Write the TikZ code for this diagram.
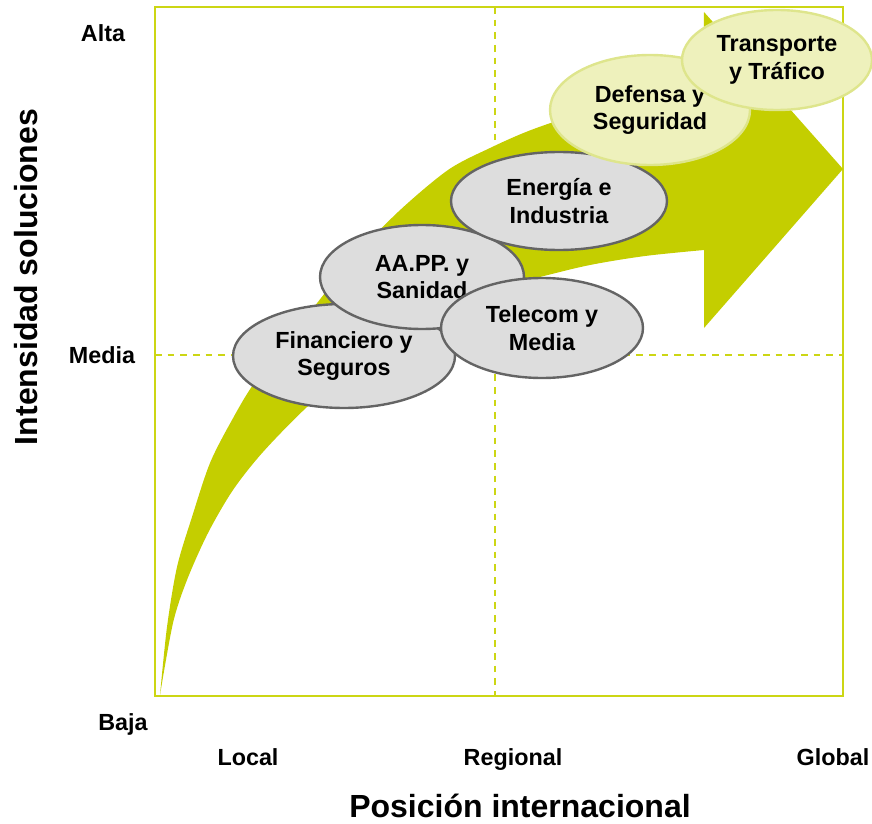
\documentclass[tikz,border=0pt]{standalone}
\usepackage{fontspec}
\setmainfont{Liberation Sans}
\usepackage{xcolor}
\usepackage{tikz}
\usetikzlibrary{shapes.geometric, positioning}
\definecolor{lime}{RGB}{196,206,0}
\definecolor{limeframe}{RGB}{204,214,20}
\definecolor{palefill}{RGB}{238,241,188}
\definecolor{paleedge}{RGB}{222,229,140}
\definecolor{greyfill}{RGB}{221,221,221}
\definecolor{greyedge}{RGB}{100,100,100}

\begin{document}
\begin{tikzpicture}[x=0.75pt, y=-0.75pt,
  sector/.style={ellipse, draw=greyedge, fill=greyfill, line width=1.8pt, inner sep=0pt,
                 align=center, font=\fontsize{17.5}{20.5}\selectfont\bfseries},
  goal/.style={sector, draw=paleedge, fill=palefill},
  lvl/.style={anchor=base, font=\fontsize{17.5}{21}\selectfont\bfseries},
  axis/.style={font=\fontsize{24}{28}\selectfont\bfseries}]
  \useasboundingbox (0,0) rectangle (872,824);
  % frame and quadrant lines
  \draw[limeframe, line width=1.4pt] (155,7) rectangle (843,696);
  \draw[limeframe, line width=1.2pt, dash pattern=on 5pt off 4.5pt] (495,7) -- (495,696);
  \draw[limeframe, line width=1.2pt, dash pattern=on 5pt off 4.5pt] (155,355) -- (843,355);
  % growth arrow
  \fill[lime] plot[smooth, tension=0.5] coordinates {(160,695) (167,627) (177,567) (192,517) (210,463)
      (232,420) (255,382) (300,325) (350,262) (398,212) (448,170) (490,148) (531,130)
      (580,114) (640,102) (703,96)}
    -- (704,12) -- (843,169) -- (704,328) -- (704,250)
    -- plot[smooth, tension=0.5] coordinates {(704,250) (645,256) (590,265) (540,277) (480,293)
      (420,320) (360,362) (307,407) (263,452) (233,490) (208,533) (187,580) (173,623) (160,695)}
    -- cycle;
  % sectors
  \node[sector, minimum width=166.5pt, minimum height=78pt] (fin) at (344,356) {Financiero y\\Seguros};
  \node[sector, minimum width=153pt, minimum height=78pt] (aapp) at (422,277) {AA.PP. y\\Sanidad};
  \node[sector, minimum width=151.5pt, minimum height=75pt] (tel) at (542,328) {Telecom y\\Media};
  \node[sector, minimum width=162pt, minimum height=73.5pt] (ene) at (559,201) {Energía e\\Industria};
  \node[goal, minimum width=150pt, minimum height=82.5pt] (def) at (650,110) {Defensa y\\Seguridad};
  \node[goal, minimum width=142.5pt, minimum height=75pt] (tra) at (777,60) {Transporte\\y Tráfico};
  % axis levels
  \node[lvl] (alta) at (103,42) {Alta};
  \node[lvl] (media) at (102,363) {Media};
  \node[lvl] (baja) at (123,730) {Baja};
  \foreach \x/\l in {248/Local, 513/Regional, 833/Global}
    \node[lvl] (pos-\l) at (\x,765) {\l};
  \node[axis] (xlab) at (520,806) {Posición internacional};
  \node[axis, rotate=90] (ylab) at (26,277) {Intensidad soluciones};
\end{tikzpicture}
\end{document}
